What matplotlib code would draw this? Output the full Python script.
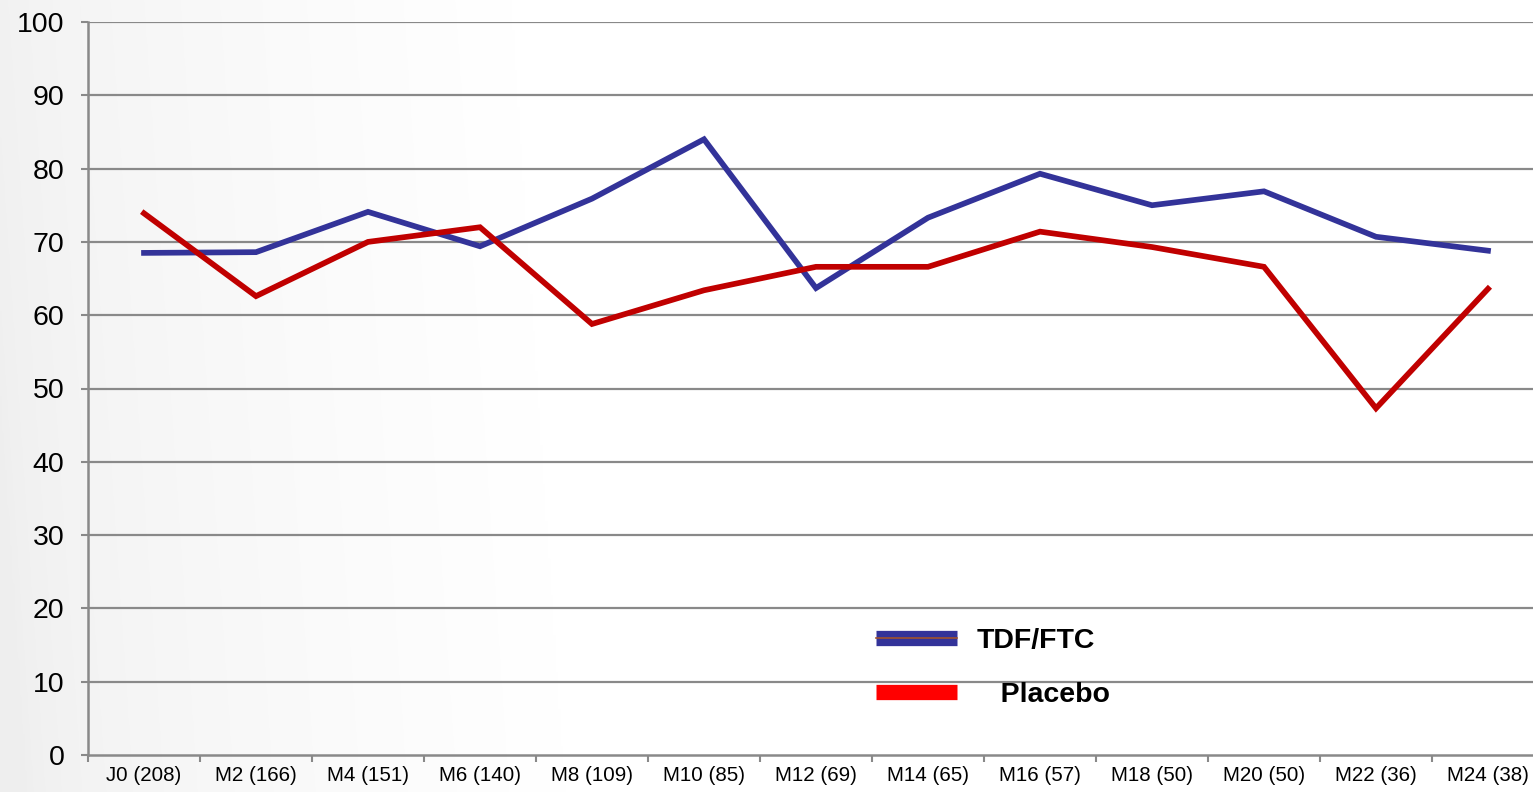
import matplotlib
matplotlib.use("Agg")
import matplotlib.pyplot as plt
import numpy as np
from matplotlib.lines import Line2D
from matplotlib.legend_handler import HandlerTuple

categories = ["J0 (208)", "M2 (166)", "M4 (151)", "M6 (140)", "M8 (109)", "M10 (85)",
              "M12 (69)", "M14 (65)", "M16 (57)", "M18 (50)", "M20 (50)", "M22 (36)", "M24 (38)"]
tdf_ftc = [68.5, 68.6, 74.1, 69.4, 75.9, 84.0, 63.7, 73.3, 79.3, 75.0, 76.9, 70.7, 68.8]
placebo = [73.9, 62.6, 70.0, 72.0, 58.8, 63.4, 66.6, 66.6, 71.4, 69.3, 66.6, 47.3, 63.6]
yticks = [0, 10, 20, 30, 40, 50, 60, 70, 80, 90, 100]

plt.rcParams['font.family'] = ['Liberation Sans', 'DejaVu Sans']

W, H = 1533, 792
fig = plt.figure(figsize=(W / 100, H / 100), dpi=100)

# background gradient
bg = fig.add_axes([0, 0, 1, 1], zorder=-10)
xx = np.linspace(0, 1, 600)
yy = np.linspace(0, 1, 300)
X, Y = np.meshgrid(xx, yy)
t = np.clip(X / 0.35 + (Y - 0.5) * 0.1, 0, 1)
g = 0.937 + 0.063 * t ** 0.6
bg.imshow(np.dstack([g, g, g]), extent=[0, 1, 0, 1], aspect='auto', origin='lower')
bg.axis('off')

left, right = 88 / W, 1544 / W
bottom, top = (H - 755) / H, (H - 22) / H
ax = fig.add_axes([left, bottom, right - left, top - bottom])
ax.patch.set_alpha(0)

x = np.arange(len(categories))
grid_c = '#898989'
for v in yticks[1:]:
    ax.axhline(v, color=grid_c, lw=1.6, zorder=1)

ax.plot(x, tdf_ftc, color='#333399', lw=4.1, zorder=3, solid_joinstyle='miter')
ax.plot(x, placebo, color='#C00000', lw=4.1, zorder=3, solid_joinstyle='miter')

ax.set_xlim(-0.5, len(categories) - 0.5)
ax.set_ylim(0, 100)
for s in ['top', 'right']:
    ax.spines[s].set_visible(False)
for s in ['left', 'bottom']:
    ax.spines[s].set_color(grid_c)
    ax.spines[s].set_linewidth(1.8)

ax.set_yticks(yticks)
ax.set_yticklabels([str(v) for v in yticks], fontsize=20.5)
ax.tick_params(axis='y', length=5, width=1.5, color=grid_c, pad=12)
ax.set_xticks(x)
ax.set_xticklabels(categories, fontsize=14.8)
ax.tick_params(axis='x', which='major', length=0, pad=8)
ax.set_xticks(np.arange(len(categories) + 1) - 0.5, minor=True)
ax.tick_params(axis='x', which='minor', length=5, width=1.5, color=grid_c)

h_blue = (Line2D([0], [0], color='#333399', lw=11, solid_capstyle='butt'),
          Line2D([0], [0], color='#A0522D', lw=1.2))
h_red = Line2D([0], [0], color='#FF0000', lw=11, solid_capstyle='butt')
leg = fig.legend([h_blue, h_red], ['TDF/FTC', '   Placebo'],
                 handler_map={tuple: HandlerTuple(ndivide=1)},
                 loc='upper left', bbox_to_anchor=(876 / W, 1 - 628 / H),
                 frameon=False, prop={'weight': 'bold', 'size': 20.5},
                 handlelength=2.85, handletextpad=0.7, labelspacing=0.98,
                 borderpad=0, borderaxespad=0)

fig.savefig('out.png', dpi=100)
